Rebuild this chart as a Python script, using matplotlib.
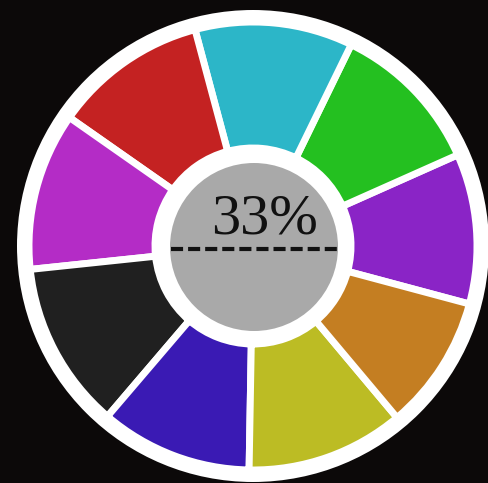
import matplotlib.pyplot as plt
from matplotlib.patches import Circle

# segment sizes in degrees, counter-clockwise from -15 deg
names = ["purple", "green", "cyan", "red", "magenta", "black", "blue", "yellow", "orange"]
sizes = [39, 40, 41, 40, 41, 43.5, 39.5, 41, 35]
colors = ["#8a24c6", "#24c020", "#2cb6c8", "#c42222", "#b42cc6",
          "#202020", "#3a1ab4", "#bcbc24", "#c47e22"]
center_label = "33%"

fig = plt.figure(figsize=(4.88, 4.83), dpi=100)
fig.patch.set_facecolor("#0c0909")
ax = fig.add_axes([0, 0, 1, 1])

cx, cy = 253, 237

# white outer disc
ax.add_patch(Circle((cx, cy), 236, facecolor="white", edgecolor="none", zorder=1))

ax.pie(sizes, colors=colors, startangle=-15, counterclock=True,
       center=(cx, cy), radius=224, frame=True,
       wedgeprops=dict(width=126, edgecolor="white", linewidth=5, zorder=2))
ax.set_xlim(0, 488)
ax.set_ylim(0, 483)
ax.set_aspect("equal")
ax.axis("off")

# grey centre
ax.add_patch(Circle((cx + 1, cy - 1), 84, facecolor="#a9a9a9", edgecolor="none", zorder=3))

ax.text(cx + 11, 264, center_label, fontsize=42, family="Liberation Serif",
        color="#111111", ha="center", va="center", zorder=4)
ax.plot([171, 337], [234, 234], color="#111111", lw=3,
        linestyle=(0, (2.9, 1.2)), zorder=4)

fig.savefig("out.png", dpi=100, facecolor=fig.get_facecolor())
